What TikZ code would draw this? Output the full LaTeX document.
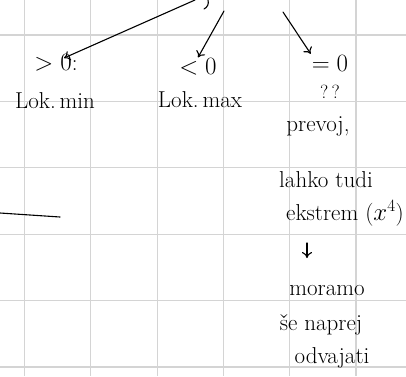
\documentclass[tikz,border=0pt]{standalone}
\usepackage{tikz}
\usetikzlibrary{positioning,arrows.meta,calc}

\begin{document}
\begin{tikzpicture}[
        x=1pt, y=-1pt,
        font=\fontsize{23}{26}\selectfont,
        gridline/.style={black!17, line width=1.2pt},
        pen/.style={black, line width=1.1pt, line cap=round},
        msg/.style={pen, -{To[length=6pt,width=10pt]}},
        word/.style={inner sep=1pt, anchor=center}
    ]
    \useasboundingbox (0,0) rectangle (406,376);

    % Grid paper
    \foreach \k in {0,...,5}
        \draw[gridline] (24.5+66.3*\k,0) -- (24.5+66.3*\k,376);
    \foreach \k in {0,...,5}
        \draw[gridline] (0,35+66.4*\k) -- (406,35+66.4*\k);

    % Cases
    \node[word] (gtz)  at (56,63)  {$>0$:};
    \node[word] (ltz)  at (198,67) {$<0$};
    \node[word] (eqz)  at (330,63) {$=0$};
    \node[word] (lmin) at (55,101) {Lok.\,min};
    \node[word] (lmax) at (200,100) {Lok.\,max};

    % Right column
    \node[word, font=\fontsize{19}{21}\selectfont] (qq) at (330,92) {?\,?};
    \node[word] (prevoj)   at (318,126) {prevoj,};
    \node[word] (lahko)    at (326,180) {lahko tudi};
    \node[word] (ekst)     at (345,213) {ekstrem ($x^4$)};
    \node[word] (moramo)   at (327,290) {moramo};
    \node[word] (naprej)   at (321,325) {še naprej};
    \node[word] (odvajati) at (332,358) {odvajati};

    % Branch ends at the top edge
    \coordinate (top1) at (195,0);
    \coordinate (top2) at (224,11);
    \coordinate (top3) at (283,12);
    \coordinate (v1) at (307,243);
    \coordinate (v2) at (307,258);
    \coordinate (left1) at (0,213);
    \coordinate (left2) at (60,217);

    \draw[pen] (208,0) to[bend left=40] (204,9);
    \draw[msg] (top1) -- ($(gtz.center)+(8,-5)$);
    \draw[msg] (top2) -- (ltz.north);
    \draw[msg] (top3) -- (eqz.north west);
    \draw[msg] (v1) -- (v2);
    \draw[pen] (left1) -- (left2);
\end{tikzpicture}
\end{document}
